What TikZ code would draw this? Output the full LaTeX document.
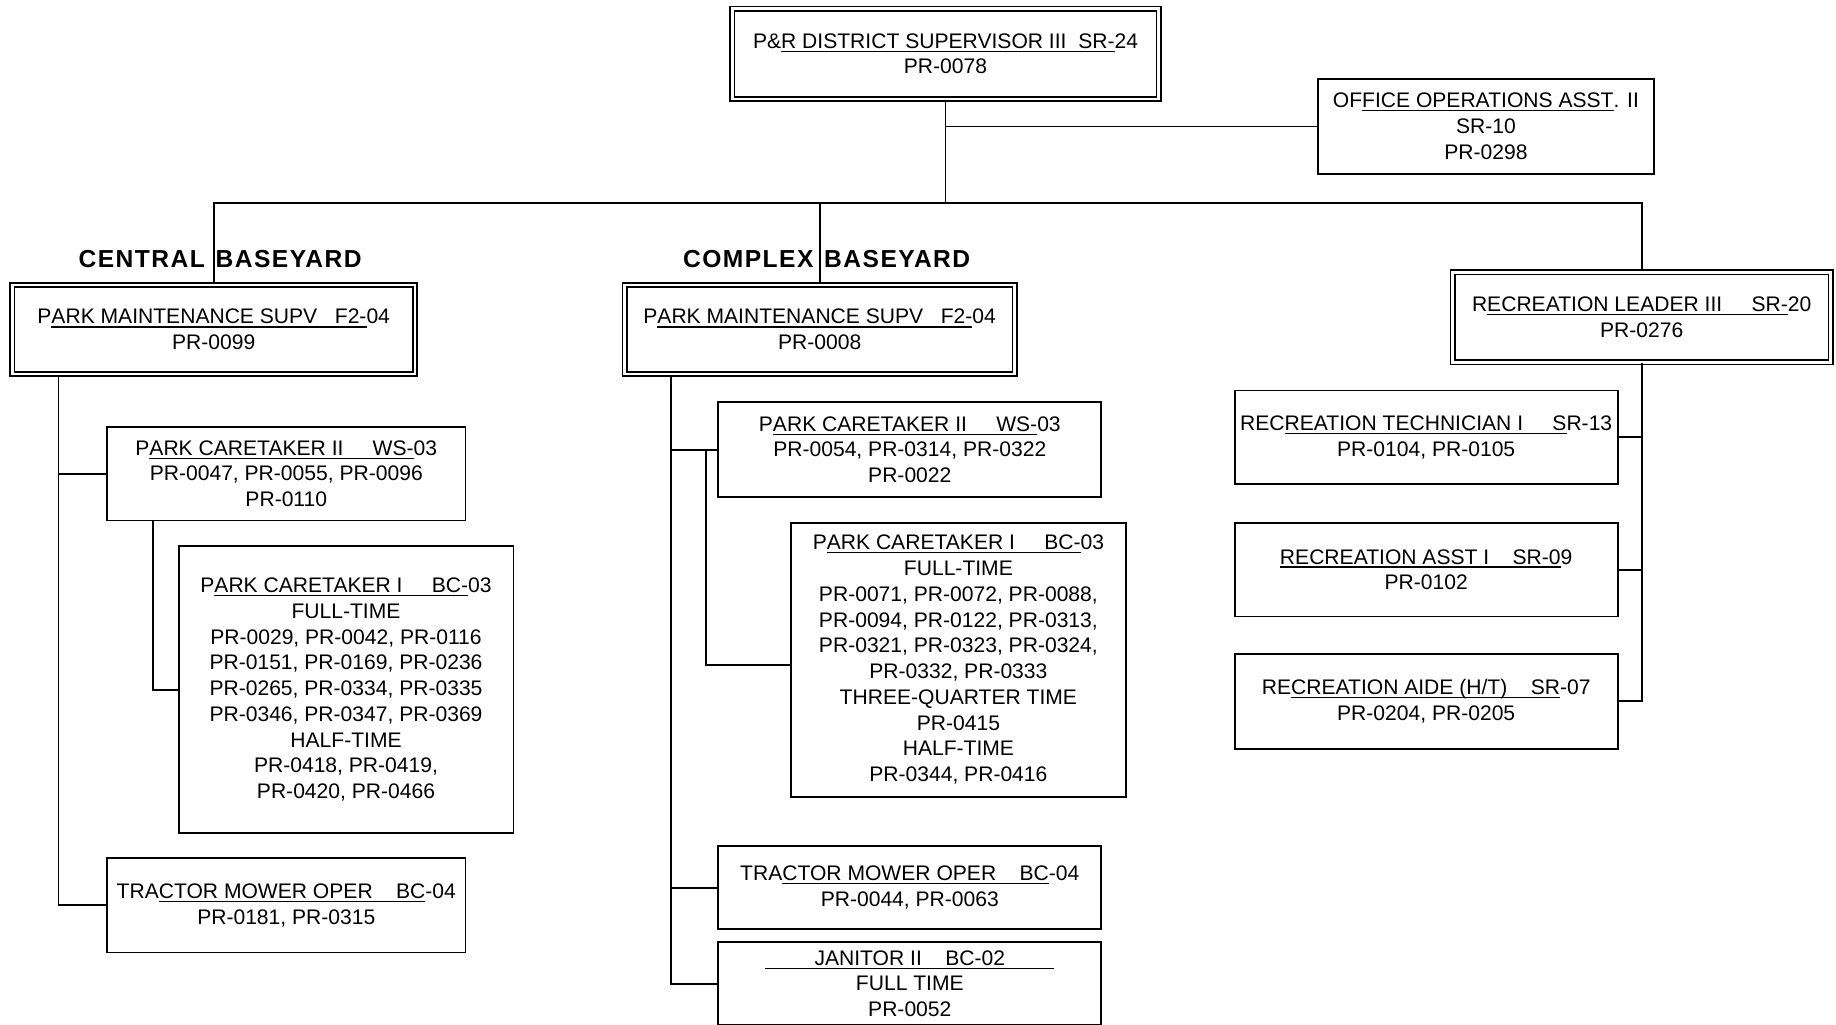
\documentclass[tikz,border=0pt]{standalone}
\usepackage{fontspec}
\setmainfont{Liberation Sans}
\newfontfamily\headfont{Liberation Sans}[LetterSpace=6]
\newsavebox\myulbox
\newcommand\ulx[1]{\sbox\myulbox{#1}\rlap{\rule[-3pt]{\wd\myulbox}{0.9pt}}\usebox\myulbox}
\tikzset{
  box/.style={draw, line width=1.6pt, inner sep=0pt, align=center,
    font=\fontsize{18}{22}\selectfont},
  dbox/.style={box, double, double distance=2.2pt, line width=1.5pt},
  head/.style={inner sep=0pt, font=\headfont\bfseries\fontsize{21}{25}\selectfont},
  conn/.style={line width=1.6pt},
}
\begin{document}
\begin{tikzpicture}[x=1pt,y=-1pt]
\useasboundingbox (0,0) rectangle (1568,875);

% top level
\node[dbox, minimum width=364pt, minimum height=77pt] (top) at (807.5,46)
  {P\&\ulx{R DISTRICT SUPERVISOR III~~SR{-}}24\\PR-0078};
\node[box, minimum width=287pt, minimum height=81pt] (office) at (1269,108)
  {OF\ulx{FICE OPERATIONS ASST}. II\\SR-10\\PR-0298};

% headings
\node[head] (chead) at (188,221) {CENTRAL\hspace{2pt} BASEYARD};
\node[head] (xhead) at (706,221) {COMPLEX\hspace{2pt} BASEYARD};

% second level
\node[dbox, minimum width=344pt, minimum height=76pt] (cpms) at (182.5,281.5)
  {P\ulx{ARK MAINTENANCE SUPV~~~F2{-}}04\\PR-0099};
\node[dbox, minimum width=333pt, minimum height=76pt] (xpms) at (700,281.5)
  {P\ulx{ARK MAINTENANCE SUPV~~~F2{-}}04\\PR-0008};
\node[dbox, minimum width=323pt, minimum height=77pt] (rl) at (1402,271)
  {R\ulx{ECREATION LEADER III~~~~~SR{-}}20\\PR-0276};

% central baseyard
\node[box, minimum width=306pt, minimum height=80pt] (cct2) at (244.5,404.5)
  {P\ulx{ARK CARETAKER II~~~~~WS{-}}03\\PR-0047, PR-0055, PR-0096\\PR-0110};
\node[box, minimum width=286pt, minimum height=245pt] (cct1) at (295.5,589)
  {P\ulx{ARK CARETAKER I~~~~~BC{-}}03\\FULL-TIME\\PR-0029, PR-0042, PR-0116\\
   PR-0151, PR-0169, PR-0236\\PR-0265, PR-0334, PR-0335\\
   PR-0346, PR-0347, PR-0369\\HALF-TIME\\PR-0418, PR-0419,\\PR-0420, PR-0466};
\node[box, minimum width=306pt, minimum height=81pt] (ctm) at (244.5,773)
  {TRA\ulx{CTOR MOWER OPER~~~~BC}-04\\PR-0181, PR-0315};

% complex baseyard
\node[box, minimum width=327pt, minimum height=81pt] (xct2) at (777,384)
  {P\ulx{ARK CARETAKER II~~~~~WS{-}}03\\PR-0054, PR-0314, PR-0322\\PR-0022};
\node[box, minimum width=286pt, minimum height=234pt] (xct1) at (818.5,563.5)
  {P\ulx{ARK CARETAKER I~~~~~BC{-}}03\\FULL-TIME\\PR-0071, PR-0072, PR-0088,\\
   PR-0094, PR-0122, PR-0313,\\PR-0321, PR-0323, PR-0324,\\PR-0332, PR-0333\\
   THREE-QUARTER TIME\\PR-0415\\HALF-TIME\\PR-0344, PR-0416};
\node[box, minimum width=327pt, minimum height=71pt] (xtm) at (777,758)
  {TRA\ulx{CTOR MOWER OPER~~~~BC}-04\\PR-0044, PR-0063};
\node[box, minimum width=327pt, minimum height=71pt] (xjan) at (777,840)
  {\ulx{\hspace*{42pt}JANITOR II~~~~BC{-}02\hspace*{42pt}}\\FULL TIME\\PR-0052};

% recreation
\node[box, minimum width=327pt, minimum height=80pt] (rtech) at (1218,373.5)
  {REC\ulx{REATION TECHNICIAN I~~~~~S}R-13\\PR-0104, PR-0105};
\node[box, minimum width=327pt, minimum height=80pt] (rasst) at (1218,486.5)
  {\ulx{RECREATION ASST I~~~~SR{-}0}9\\PR-0102};
\node[box, minimum width=327pt, minimum height=81pt] (raide) at (1218,599)
  {RE\ulx{CREATION AIDE (H/T)~~~~SR}-07\\PR-0204, PR-0205};

% connectors
\coordinate (bus) at (808,173);
\draw[conn] (top.south) -- (top.south |- bus);
\draw[conn] (top.south |- office.west) -- (office.west);
\draw[conn] (cpms.north) -- (cpms.north |- bus) -- (rl.north |- bus) -- (rl.north);
\draw[conn] (xpms.north |- bus) -- (xpms.north);

\coordinate (cx1) at (50,0);
\draw[conn] (cpms.south -| cx1) |- (ctm.west);
\draw[conn] (cx1 |- cct2.west) -- (cct2.west);
\coordinate (cx2) at (131,0);
\draw[conn] (cct2.south -| cx2) |- (cct1.west);

\coordinate (xx1) at (573,0);
\draw[conn] (xpms.south -| xx1) |- (xjan.west);
\draw[conn] (xx1 |- xct2.west) -- (xct2.west);
\draw[conn] (xx1 |- xtm.west) -- (xtm.west);
\coordinate (xx2) at (603,0);
\draw[conn] (xx2 |- xct2.west) |- ([yshift=-4.5pt]xct1.west);

\draw[conn] (rl.south) |- (raide.east);
\draw[conn] (rl.south |- rtech.east) -- (rtech.east);
\draw[conn] (rl.south |- rasst.east) -- (rasst.east);
\end{tikzpicture}
\end{document}
